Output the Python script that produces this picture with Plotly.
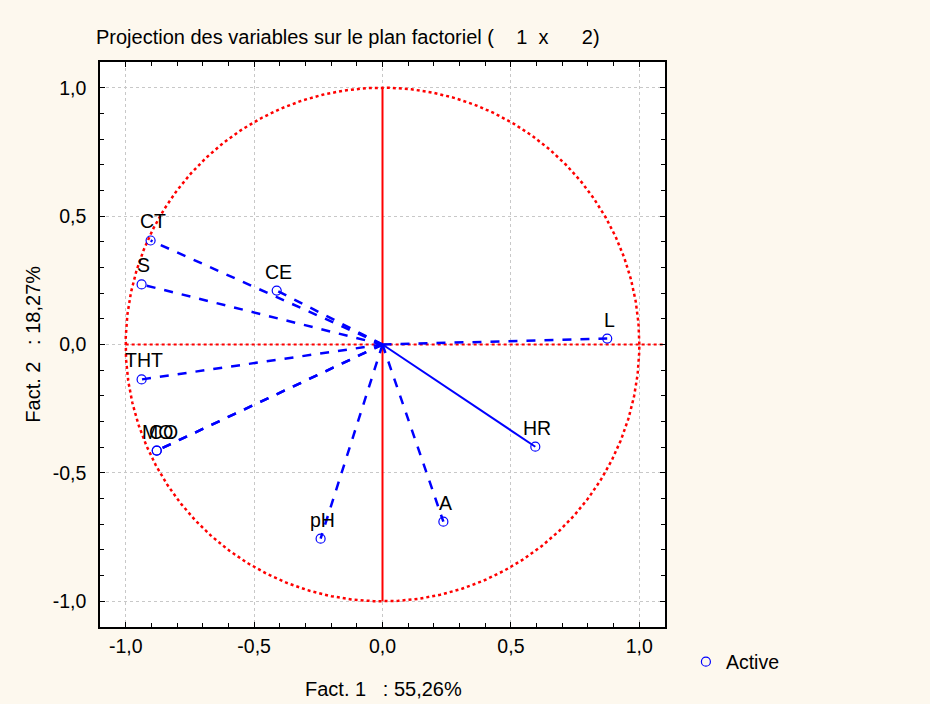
import numpy as np
import plotly.graph_objects as go

# Data: variable coordinates on factor 1 x factor 2
variables = ["CT", "S", "CE", "L", "THT", "MO", "CO", "HR", "pH", "A"]
fact1 = [-0.903, -0.938, -0.412, 0.875, -0.938, -0.879, -0.879, 0.595, -0.241, 0.237]
fact2 = [0.405, 0.234, 0.210, 0.023, -0.136, -0.413, -0.413, -0.398, -0.756, -0.690]
solid_vars = ["HR"]

tick_vals = [-1.0, -0.5, 0.0, 0.5, 1.0]
tick_text = ["-1,0", "-0,5", "0,0", "0,5", "1,0"]

NB = "\u00a0"
title_text = "Projection des variables sur le plan factoriel (" + NB * 4 + "1" + NB * 2 + "x" + NB * 6 + "2)"
xlab = "Fact. 1" + NB * 3 + ": 55,26%"
ylab = "Fact. 2" + NB * 3 + ": 18,27%"

label_xshift = {"MO": -1, "CO": 5}

BLUE = "#0000FF"
RED = "#FF0000"
FONT = "Liberation Sans"
FS = 19.5
FT = 20

fig = go.Figure()

# unit circle
theta = np.linspace(0, 2 * np.pi, 721)
fig.add_trace(go.Scatter(x=np.cos(theta), y=np.sin(theta), mode="lines",
                         line=dict(color=RED, width=2.5, dash="dot"),
                         hoverinfo="skip", showlegend=False))
# axes through origin
fig.add_trace(go.Scatter(x=[-1.0, 1.1], y=[0, 0], mode="lines",
                         line=dict(color=RED, width=2, dash="dot"),
                         hoverinfo="skip", showlegend=False))
fig.add_trace(go.Scatter(x=[0, 0], y=[-1.0, 1.0], mode="lines",
                         line=dict(color=RED, width=2),
                         hoverinfo="skip", showlegend=False))

# vectors
for v, x, y in zip(variables, fact1, fact2):
    solid = v in solid_vars
    fig.add_trace(go.Scatter(x=[0, x], y=[0, y], mode="lines",
                             line=dict(color=BLUE, width=2 if solid else 2.5,
                                       dash="solid" if solid else "dash"),
                             hoverinfo="skip", showlegend=False))

# points
fig.add_trace(go.Scatter(x=fact1, y=fact2, mode="markers", name="Active",
                         marker=dict(symbol="circle-open", size=9,
                                     color=BLUE, line=dict(width=1.2, color=BLUE)),
                         showlegend=True))

annotations = []
for v, x, y in zip(variables, fact1, fact2):
    annotations.append(dict(x=x, y=y, xref="x", yref="y", text=v, showarrow=False,
                            xshift=2 + label_xshift.get(v, 0), yshift=19,
                            font=dict(family=FONT, size=FS, color="black")))
# axis titles
annotations.append(dict(x=0.501, y=-0.1097, xref="paper", yref="paper", text=xlab,
                        showarrow=False, xanchor="center", yanchor="middle",
                        font=dict(family=FONT, size=FT, color="black")))
annotations.append(dict(x=-0.120, y=0.5, xref="paper", yref="paper", text=ylab,
                        showarrow=False, xanchor="center", yanchor="middle", textangle=-90,
                        font=dict(family=FONT, size=FT, color="black")))

axis_common = dict(
    range=[-1.1, 1.1], tickvals=tick_vals, ticktext=tick_text, automargin=False,
    showgrid=True, gridcolor="#c8c8c8", griddash="dot", gridwidth=1,
    zeroline=False, showline=True, linecolor="black", linewidth=1.5, mirror="ticks",
    ticks="inside", ticklen=5, tickcolor="black", tickwidth=1,
    minor=dict(dtick=0.1, ticks="inside", ticklen=4, tickcolor="black", showgrid=False),
    tickfont=dict(family=FONT, size=FS, color="black"),
)

fig.update_layout(
    width=930, height=704,
    margin=dict(l=100, r=265, t=62, b=77, autoexpand=False),
    paper_bgcolor="#FDF8EE", plot_bgcolor="white",
    title=dict(text=title_text, x=96 / 930, xanchor="left", y=1 - 37 / 704, yanchor="middle",
               font=dict(family=FONT, size=FT, color="black")),
    xaxis=dict(axis_common, ticklabelstandoff=1),
    yaxis=dict(axis_common, ticklabelstandoff=8),
    legend=dict(x=1.037, y=-0.062, xanchor="left", yanchor="middle", bgcolor="rgba(0,0,0,0)",
                font=dict(family=FONT, size=FS, color="black")),
    annotations=annotations,
)

fig.write_html("out.html")
